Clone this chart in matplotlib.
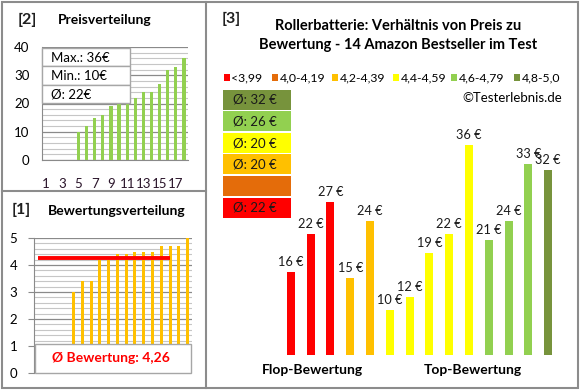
import numpy
import matplotlib
matplotlib.use("Agg")
import matplotlib.pyplot as plt
from matplotlib.patches import Rectangle

plt.rcParams['font.family'] = ['Lato', 'DejaVu Sans']

# panel [2]: sorted prices in euro, categories 5..18
price_pos = list(range(5, 19))
prices = [10, 12, 15, 16, 19, 20, 20, 22, 24, 24, 27, 32, 33, 36]
price_xticks = [1, 3, 5, 7, 9, 11, 13, 15, 17]

# panel [1]: sorted ratings
rating_pos = list(range(5, 19))
ratings = [3.0, 3.4, 3.4, 4.2, 4.2, 4.4, 4.4, 4.5, 4.5, 4.5, 4.7, 4.7, 4.7, 5.0]

# panel [3]: price per product, grouped by rating class
bar_prices = [16, 22, 27, 15, 24, 10, 12, 19, 22, 36, 21, 24, 33, 32]
bar_groups = [0, 0, 0, 2, 2, 3, 3, 3, 3, 3, 4, 4, 4, 5]
group_labels = ["<3,99", "4,0-4,19", "4,2-4,39", "4,4-4,59", "4,6-4,79", "4,8-5,0"]
group_colors = ["#FF0000", "#E46C0A", "#FFC000", "#FFFF00", "#92D050", "#77933C"]
group_avgs = [22, None, 20, 20, 26, 32]

W, H = 580, 390
fig = plt.figure(figsize=(W / 100, H / 100), dpi=100)


def px_axes(x0, y0, x1, y1, **kw):
    return fig.add_axes([x0 / W, 1 - y1 / H, (x1 - x0) / W, (y1 - y0) / H], **kw)


grid_minor = "#c6c6c6"
grid_major = "#8a8a8a"

# ---- [2] Preisverteilung
ax2 = px_axes(42, 47, 188, 160)
ax2.bar(price_pos, prices, width=0.4, color="#92D050", zorder=3)
ax2.set_xlim(0.5, 18.5)
ax2.set_ylim(0, 40)
ax2.set_yticks(numpy.arange(0, 41, 10))
ax2.set_yticks(numpy.arange(0, 41, 2), minor=True)
ax2.set_xticks(price_xticks)
ax2.yaxis.grid(True, which="minor", color=grid_minor, lw=0.8)
ax2.yaxis.grid(True, which="major", color=grid_major, lw=0.9)
ax2.tick_params(axis="y", which="both", length=0, pad=9, labelsize=9.5)
ax2.tick_params(axis="x", length=0, pad=13, labelsize=9.5, labelcolor="#2a142a")
for s in ["top", "right"]:
    ax2.spines[s].set_visible(False)
for s in ["left", "bottom"]:
    ax2.spines[s].set_color(grid_major)

# ---- [1] Bewertungsverteilung
ax1 = px_axes(34, 238, 192, 373)
ax1.bar(rating_pos, ratings, width=0.35, color="#FFC000", zorder=3)
avg_rating = numpy.mean(ratings)
ax1.hlines(avg_rating, 1, 16, color="#FF0000", lw=2.8, zorder=4)
ax1.set_xlim(0.5, 18.5)
ax1.set_ylim(0, 5)
ax1.set_yticks(numpy.arange(0, 6, 1))
ax1.set_yticks(numpy.arange(0, 5.01, 0.2), minor=True)
ax1.set_xticks([])
ax1.yaxis.grid(True, which="minor", color=grid_minor, lw=0.8)
ax1.yaxis.grid(True, which="major", color=grid_major, lw=0.9)
ax1.tick_params(axis="y", which="major", length=4, color=grid_major, pad=8, labelsize=9.5)
ax1.tick_params(axis="y", which="minor", length=0)
for s in ["top", "right", "bottom"]:
    ax1.spines[s].set_visible(False)
ax1.spines["left"].set_color(grid_major)

# ---- [3] price vs rating
ax3 = px_axes(271, 140, 568, 355)
xs = numpy.arange(len(bar_prices))
ax3.bar(xs, bar_prices, width=0.4, color=[group_colors[g] for g in bar_groups])
for x, v in zip(xs, bar_prices):
    ax3.annotate(f"{v} €", (x, v), xytext=(0, 3), textcoords="offset points",
                 ha="center", va="bottom", fontsize=9.2, color="#1a1a1a")
ax3.set_xlim(-1, 14)
ax3.set_ylim(2.93, 36.8)
ax3.axis("off")

# ---- overlay in pixel coordinates: frames, titles, boxes
ov = fig.add_axes([0, 0, 1, 1], zorder=10)
ov.set_xlim(0, W)
ov.set_ylim(H, 0)
ov.axis("off")
ov.patch.set_alpha(0)

frame = "#8c8c8c"
ov.add_patch(Rectangle((2, 1.5), 576, 386.5, fill=False, ec=frame, lw=1.5))
ov.plot([205.5, 205.5], [1.5, 388], color=frame, lw=1.5)
ov.plot([2, 205.5], [191, 191], color=frame, lw=1.5)

ov.text(18, 20, "[2]", fontsize=11.5, fontweight="bold", va="center", color="#1f1f1f")
ov.text(58, 20, "Preisverteilung", fontsize=10, fontweight="bold", va="center")
ov.text(12, 210, "[1]", fontsize=11.5, fontweight="bold", va="center", color="#1f1f1f")
ov.text(48, 211, "Bewertungsverteilung", fontsize=10, fontweight="bold", va="center")
ov.text(222, 19, "[3]", fontsize=11.5, fontweight="bold", va="center", color="#1f1f1f")
ov.text(398, 26, "Rollerbatterie: Verhältnis von Preis zu", fontsize=10.5,
        fontweight="bold", ha="center", va="center")
ov.text(398, 45, "Bewertung - 14 Amazon Bestseller im Test", fontsize=10.5,
        fontweight="bold", ha="center", va="center")

# stats box in [2]
stats = [f"Max.: {max(prices)}€", f"Min.: {min(prices)}€", f"Ø: {round(numpy.mean(prices))}€"]
for i, t in enumerate(stats):
    y0 = 48 + i * 18.3
    ov.add_patch(Rectangle((42, y0), 88, 18.3, fc="white", ec="#a6a6a6", lw=1))
    ov.text(51, y0 + 9.5, t, fontsize=9.5, va="center")

# average rating box in [1]
ov.add_patch(Rectangle((35, 344), 156, 29, fc="white", ec="#a6a6a6", lw=1))
ov.text(111, 358.5, "Ø Bewertung: " + f"{avg_rating:.2f}".replace(".", ","),
        fontsize=10, fontweight="bold", color="#FF0000", ha="center", va="center")

# legend row in [3]
leg_x = [224, 272, 332, 393, 451, 514]
for x, lab, c in zip(leg_x, group_labels, group_colors):
    ov.add_patch(Rectangle((x, 74), 6, 6.5, fc=c, ec="none"))
    ov.text(x + 7.5, 77.5, lab, fontsize=8.8, va="center")

# group average boxes
for i, g in enumerate([5, 4, 3, 2, 1, 0]):
    y0 = 89.5 + i * 21.6
    ov.add_patch(Rectangle((223, y0), 68, 20, fc=group_colors[g], ec="none"))
    if group_avgs[g] is not None:
        ov.text(233, y0 + 10.5, f"Ø: {group_avgs[g]} €", fontsize=9.5, va="center",
                color="#1a1a1a")

ov.text(562, 98, "©Testerlebnis.de", fontsize=9.5, ha="right", va="center")
ov.text(312, 370, "Flop-Bewertung", fontsize=10, fontweight="bold", ha="center", va="center")
ov.text(473, 370, "Top-Bewertung", fontsize=10, fontweight="bold", ha="center", va="center")

fig.savefig("out.png", dpi=100)
